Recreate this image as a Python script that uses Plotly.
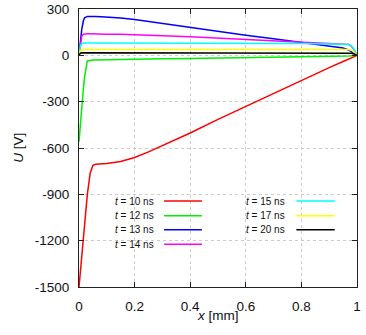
import plotly.graph_objects as go

# shared x grid [mm]
x_mm = [0, 0.005, 0.01, 0.016, 0.02, 0.03, 0.04, 0.05, 0.06, 0.08, 0.1, 0.15, 0.2,
        0.25, 0.3, 0.4, 0.5, 0.6, 0.7, 0.8, 0.9, 0.95, 0.97, 0.98, 0.99, 1.0]

u_10ns = [-1500, -1405, -1310, -1196, -1110, -900, -765, -712, -705, -703, -700, -687, -661,
          -625, -585, -503, -415, -330, -245, -162, -80, -40, -24, -16, -8, 0]
u_12ns = [-560, -470, -340, -210, -140, -36, -31, -30, -30, -29, -28, -27, -25,
          -24, -22, -20, -18, -15, -13, -10, -7, -5, -4, -3, -2, 0]
u_13ns = [0, 90, 170, 225, 243, 252, 253, 252, 251, 250, 248, 242, 232,
          219, 205, 180, 155, 130, 107, 82, 60, 47, 35, 25, 12, 0]
u_14ns = [0, 80, 125, 137, 139, 139, 139, 138, 138, 137, 137, 136, 134,
          131, 127, 120, 112, 104, 96, 88, 80, 75, 70, 58, 35, 0]
u_15ns = [0, 60, 78, 80, 80, 80, 80, 80, 80, 80, 80, 79, 79,
          79, 78, 78, 77, 77, 76, 76, 74, 72, 70, 60, 38, 0]
u_17ns = [0, 30, 38, 38, 38, 38, 38, 38, 38, 38, 38, 38, 38,
          38, 38, 38, 38, 38, 38, 38, 38, 38, 37, 33, 20, 0]
u_20ns = [0, 14, 16, 16, 16, 16, 16, 16, 16, 16, 16, 16, 16,
          16, 16, 16, 16, 16, 16, 16, 16, 16, 15, 14, 9, 0]

series_names = ["10", "12", "13", "14", "15", "17", "20"]
series_vals = [u_10ns, u_12ns, u_13ns, u_14ns, u_15ns, u_17ns, u_20ns]
series_colors = ["#ff0000", "#00f000", "#0000ff", "#ff00ff", "#00ffff", "#ffff00", "#000000"]

x_ticks = [0, 0.2, 0.4, 0.6, 0.8, 1]
x_ticklabels = ["0", "0.2", "0.4", "0.6", "0.8", "1"]
y_ticks = [300, 0, -300, -600, -900, -1200, -1500]
y_ticklabels = ["300", "0", "-300", "-600", "-900", "-1200", "-1500"]

FONT = "Liberation Sans, Arial, sans-serif"

fig = go.Figure()
for name, vals, col in zip(series_names, series_vals, series_colors):
    fig.add_trace(go.Scatter(x=x_mm, y=vals, mode="lines", name=f"t = {name} ns",
                             line=dict(color=col, width=1.5), showlegend=False, cliponaxis=False))

# gnuplot-style legend: white box, right-aligned text, sample line to the right
shapes = [dict(type="rect", xref="paper", yref="paper", x0=0.004, x1=0.95, y0=0.129, y1=0.331,
               fillcolor="white", line=dict(width=0), layer="between")]
annotations = []
rows_y = [0.309, 0.256, 0.206, 0.154]
cols = [(0.276, 0.306, 0.442), (0.749, 0.782, 0.92)]
for i, (name, col) in enumerate(zip(series_names, series_colors)):
    c = 0 if i < 4 else 1
    r = i if i < 4 else i - 4
    tx, lx0, lx1 = cols[c]
    yy = rows_y[r]
    annotations.append(dict(xref="paper", yref="paper", x=tx, y=yy, xanchor="right", yanchor="middle",
                            text=f"<i>t</i> = {name} ns", showarrow=False,
                            font=dict(family=FONT, size=10, color="#111")))
    shapes.append(dict(type="line", xref="paper", yref="paper", x0=lx0, x1=lx1, y0=yy, y1=yy,
                       line=dict(color=col, width=1.5), layer="above"))

# axis titles placed as annotations (pixel-accurate)
annotations.append(dict(xref="paper", yref="paper", x=0.5, y=-0.104, xanchor="center", yanchor="middle",
                        text="<i>x</i> [mm]", showarrow=False,
                        font=dict(family=FONT, size=13.5, color="#111")))
annotations.append(dict(xref="paper", yref="paper", x=-0.22, y=0.5, xanchor="center", yanchor="middle",
                        text="<i>U</i> [V]", showarrow=False, textangle=-90,
                        font=dict(family=FONT, size=13.5, color="#111")))

axis_common = dict(showline=True, linecolor="#222", linewidth=1.2, mirror="ticks",
                   ticks="inside", ticklen=5, tickcolor="#222", tickwidth=1,
                   showgrid=True, gridcolor="#cccccc", griddash="dot", gridwidth=1,
                   zeroline=False, automargin=False,
                   tickfont=dict(family=FONT, size=13.5, color="#111"))

fig.update_xaxes(range=[0, 1], tickvals=x_ticks, ticktext=x_ticklabels,
                 ticklabelstandoff=7, **axis_common)
fig.update_yaxes(range=[-1500, 300], tickvals=y_ticks, ticktext=y_ticklabels,
                 ticklabelstandoff=6, **axis_common)

fig.update_layout(width=366, height=335, autosize=False, margin=dict(l=79, r=9, t=9, b=48, pad=0),
                  plot_bgcolor="white", paper_bgcolor="white",
                  shapes=shapes, annotations=annotations, showlegend=False)

fig.write_html("out.html", config={"responsive": False, "displayModeBar": False},
               post_script="document.body.style.margin='0';document.body.style.overflow='hidden';")
